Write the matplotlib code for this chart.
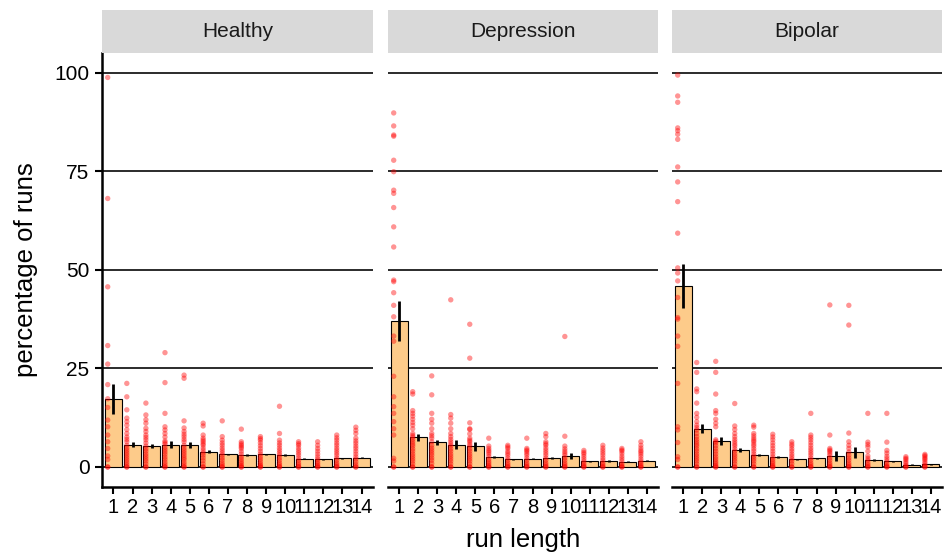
import matplotlib as mpl

mpl.use('agg')
import matplotlib.pyplot as plt
import numpy as np

plt.rcParams['font.family'] = ['Liberation Sans', 'DejaVu Sans']

groups = ['Healthy', 'Depression', 'Bipolar']
run_lengths = list(range(1, 15))

# mean percentage of runs per run length
healthy_mean = [17.2, 5.7, 5.3, 5.7, 5.6, 3.9, 3.2, 3.1, 3.2, 3.0, 2.1, 1.9, 2.2, 2.4]
depression_mean = [37.0, 7.5, 6.3, 5.7, 5.2, 2.5, 2.0, 2.1, 2.2, 2.8, 1.4, 1.5, 1.3, 1.6]
bipolar_mean = [45.9, 9.7, 6.5, 4.2, 3.1, 2.5, 1.9, 2.2, 2.8, 3.7, 1.7, 1.4, 0.6, 0.7]

# standard errors
healthy_se = [3.75, 0.75, 0.5, 0.8, 0.8, 0.3, 0.2, 0.2, 0.2, 0.25, 0.2, 0.15, 0.2, 0.2]
depression_se = [5.1, 0.85, 0.65, 1.2, 1.25, 0.2, 0.15, 0.2, 0.25, 0.85, 0.15, 0.15, 0.15, 0.15]
bipolar_se = [5.6, 1.2, 1.0, 0.5, 0.3, 0.2, 0.2, 0.2, 1.2, 1.45, 0.25, 0.2, 0.1, 0.1]

# individual subjects, one list per run length
healthy_points = [
    [98.8, 68.1, 45.7, 30.8, 26.1, 20.9, 17.3, 15.1, 11.9, 10.2, 8.1, 6.4, 4.7, 2.8, 1.9, 0, 0],
    [21.2, 17.8, 14.5, 12.4, 11.5, 10.6, 9.5, 8.5, 7.6, 7.0, 6.4, 5.5, 4.8, 4.2, 3.6, 3.0, 2.4,
     1.8, 1.2, 0.6, 0, 0],
    [16.2, 13.2, 12.0, 11.1, 9.8, 9.0, 8.1, 7.5, 6.9, 6.1, 5.3, 4.6, 4.0, 3.3, 2.7, 2.1, 1.5,
     0.8, 0, 0],
    [29.0, 21.4, 13.6, 10.2, 9.4, 8.5, 7.6, 6.6, 6.2, 5.8, 5.0, 4.4, 3.8, 3.2, 2.5, 1.9, 1.2,
     0.6, 0, 0],
    [23.3, 22.5, 11.7, 9.9, 9.0, 8.3, 7.7, 7.0, 6.4, 5.5, 4.8, 4.2, 3.6, 3.0, 2.4, 1.9, 1.2,
     0.6, 0, 0],
    [11.1, 10.4, 8.1, 7.3, 6.8, 6.4, 5.9, 5.5, 4.8, 4.2, 3.6, 3.0, 2.3, 1.6, 0.8, 0, 0],
    [11.7, 7.7, 6.8, 6.1, 5.5, 4.8, 4.2, 3.6, 3.0, 2.3, 1.7, 1.0, 0.5, 0, 0],
    [9.6, 6.4, 5.9, 5.5, 5.1, 4.7, 4.0, 3.3, 2.6, 2.0, 1.4, 0.9, 0.4, 0, 0],
    [7.7, 7.2, 6.8, 6.1, 5.4, 4.7, 4.0, 3.3, 2.6, 2.0, 1.4, 0.8, 0.4, 0, 0],
    [15.4, 8.5, 6.8, 6.1, 5.5, 4.8, 4.2, 3.6, 3.0, 2.3, 1.7, 1.0, 0.5, 0, 0],
    [6.4, 5.9, 5.5, 4.8, 4.2, 3.6, 3.0, 2.3, 1.7, 1.0, 0.5, 0, 0],
    [6.4, 5.5, 4.7, 4.0, 3.3, 2.6, 2.0, 1.4, 0.9, 0.4, 0, 0],
    [8.1, 7.4, 6.8, 6.1, 5.5, 4.8, 4.2, 3.6, 3.0, 2.3, 1.7, 1.0, 0.5, 0, 0],
    [10.1, 9.3, 8.5, 7.3, 6.6, 6.0, 5.3, 4.7, 4.0, 3.3, 2.6, 2.0, 1.3, 0.6, 0, 0],
]
depression_points = [
    [89.8, 86.5, 84.2, 83.9, 77.8, 74.9, 70.2, 69.4, 65.8, 60.9, 55.8, 47.4, 47.0, 44.2,
     41.0, 38.1, 33.2, 31.9, 23.0, 17.8, 15.3, 13.6, 11.5, 9.7, 8.1, 2.2, 1.5, 0, 0],
    [19.1, 18.5, 14.3, 13.6, 12.9, 12.1, 11.3, 10.6, 9.7, 8.5, 8.0, 7.6, 7.0, 6.4, 5.8, 5.3,
     4.6, 4.0, 3.3, 2.7, 2.1, 1.5, 0.8, 0, 0],
    [23.1, 18.3, 13.6, 12.1, 11.1, 9.7, 8.5, 7.9, 7.3, 6.4, 5.5, 4.8, 4.2, 3.6, 3.0, 2.3, 1.7,
     0.9, 0, 0],
    [42.4, 13.3, 12.4, 11.1, 9.7, 8.5, 7.7, 7.0, 6.4, 5.8, 5.3, 4.6, 4.0, 3.3, 2.7, 2.1, 1.5,
     0.8, 0, 0],
    [36.2, 27.6, 11.2, 9.7, 9.5, 8.4, 7.3, 6.8, 6.4, 5.8, 5.3, 4.6, 4.0, 3.3, 2.7, 2.1, 1.5,
     0.8, 0, 0],
    [7.3, 5.3, 4.7, 4.2, 3.8, 3.3, 2.7, 2.0, 1.4, 0.9, 0.4, 0, 0],
    [5.5, 5.1, 4.7, 4.0, 3.5, 3.0, 2.3, 1.7, 1.0, 0.5, 0, 0],
    [7.3, 4.7, 4.3, 4.0, 3.5, 3.0, 2.3, 1.7, 1.0, 0.5, 0, 0],
    [8.5, 7.7, 6.4, 5.9, 5.5, 4.8, 4.2, 3.6, 3.0, 2.3, 1.7, 1.0, 0.5, 0, 0],
    [33.1, 7.8, 5.3, 4.6, 4.0, 3.5, 3.0, 2.3, 1.7, 1.0, 0.5, 0, 0],
    [4.2, 3.7, 3.3, 2.7, 2.1, 1.5, 0.9, 0.4, 0, 0],
    [5.5, 4.8, 4.2, 3.6, 3.0, 2.3, 1.7, 1.0, 0.5, 0, 0],
    [4.7, 4.3, 4.0, 3.4, 2.7, 2.1, 1.5, 0.8, 0.3, 0, 0],
    [6.4, 5.5, 4.8, 4.2, 3.8, 3.3, 2.7, 2.0, 1.4, 0.9, 0.4, 0, 0],
]
bipolar_points = [
    [99.4, 94.1, 92.5, 86.0, 85.3, 84.4, 83.1, 76.1, 72.3, 67.3, 59.3, 50.5, 49.2, 47.2,
     43.0, 37.9, 37.5, 33.2, 30.6, 21.2, 10.2, 9.4, 6.2, 2.6, 1.9, 0, 0],
    [26.5, 24.0, 19.8, 19.1, 16.2, 13.6, 12.6, 11.5, 10.6, 10.0, 9.4, 8.5, 7.7, 7.0, 6.4, 5.8,
     5.3, 4.6, 4.0, 3.3, 2.7, 2.1, 1.5, 0.8, 0, 0],
    [26.8, 24.0, 18.5, 14.3, 13.6, 12.1, 11.1, 10.2, 6.9, 6.5, 6.1, 5.4, 4.7, 4.0, 3.3, 2.6,
     2.0, 1.4, 0.9, 0.4, 0, 0],
    [16.1, 10.4, 9.5, 8.5, 7.7, 7.0, 6.4, 5.8, 5.3, 4.6, 4.0, 3.3, 2.7, 2.1, 1.5, 0.8, 0, 0],
    [10.6, 10.1, 8.5, 7.9, 7.3, 6.8, 6.4, 5.8, 5.3, 4.6, 4.0, 3.3, 2.7, 2.1, 1.5, 0.8, 0, 0],
    [8.3, 7.6, 6.9, 6.1, 5.4, 4.7, 4.0, 3.3, 2.6, 2.0, 1.4, 0.9, 0.4, 0, 0],
    [6.4, 5.8, 5.3, 4.6, 4.0, 3.3, 2.7, 2.1, 1.5, 0.8, 0, 0],
    [13.6, 8.1, 7.5, 6.9, 6.2, 5.5, 4.8, 4.2, 3.6, 3.0, 2.3, 1.7, 1.0, 0.5, 0, 0],
    [41.1, 8.1, 4.7, 4.3, 4.0, 3.5, 3.0, 2.3, 1.7, 1.0, 0.5, 0, 0],
    [41.0, 36.0, 8.6, 6.4, 5.5, 4.7, 3.8, 3.0, 2.3, 1.7, 1.0, 0.5, 0, 0],
    [13.6, 6.3, 5.7, 5.1, 4.0, 2.8, 2.2, 1.7, 1.0, 0.5, 0, 0],
    [13.6, 6.3, 4.2, 3.5, 2.7, 2.1, 1.5, 0.8, 0.3, 0, 0],
    [2.6, 2.2, 1.9, 1.4, 0.9, 0.4, 0, 0],
    [3.2, 2.9, 2.6, 2.2, 1.9, 1.4, 0.9, 0.4, 0, 0],
]

means = [healthy_mean, depression_mean, bipolar_mean]
ses = [healthy_se, depression_se, bipolar_se]
points = [healthy_points, depression_points, bipolar_points]

W, H = 945, 554
fig = plt.figure(figsize=(W / 100, H / 100), dpi=100)

panel_x = [(102, 373), (388, 658), (672, 942)]
bottom, top = 1 - 486.7 / H, 1 - 53 / H
strip_top = 1 - 10 / H

for i, (x0, x1) in enumerate(panel_x):
    ax = fig.add_axes([x0 / W, bottom, (x1 - x0) / W, top - bottom])
    x = np.array(run_lengths)
    m = np.array(means[i])
    s = np.array(ses[i])

    for yv in [0, 25, 50, 75, 100]:
        ax.axhline(yv, color='#1a1a1a', lw=1.3, zorder=0)

    ax.bar(x, m, width=0.9, color='#fdcb8a', edgecolor='black', linewidth=0.8, zorder=2)
    for k, vals in enumerate(points[i]):
        ax.scatter(np.full(len(vals), run_lengths[k] - 0.3), vals, s=15, color='red',
                   alpha=0.42, edgecolors='none', zorder=3)
    ax.vlines(x, m - s, m + s, color='black', lw=2.0, zorder=4)

    ax.set_xlim(0.4, 14.6)
    ax.set_ylim(-5, 105)
    ax.set_xticks(run_lengths)
    ax.set_xticklabels([str(v) for v in run_lengths], fontsize=14.5)
    ax.tick_params(axis='x', length=5, width=1.5, pad=3)
    for side in ['top', 'right']:
        ax.spines[side].set_visible(False)
    ax.spines['bottom'].set_linewidth(1.8)
    if i == 0:
        ax.set_yticks([0, 25, 50, 75, 100])
        ax.set_yticklabels(['0', '25', '50', '75', '100'], fontsize=15)
        ax.tick_params(axis='y', length=5, width=1.5, pad=4)
        ax.spines['left'].set_linewidth(1.8)
        ax.set_ylabel('percentage of runs', fontsize=18.5, labelpad=12)
    else:
        ax.spines['left'].set_visible(False)
        ax.set_yticks([])
    if i == 1:
        ax.set_xlabel('run length', fontsize=18.5, labelpad=8)

    strip = fig.add_axes([x0 / W, top, (x1 - x0) / W, strip_top - top])
    strip.set_facecolor('#d9d9d9')
    strip.set_xticks([])
    strip.set_yticks([])
    for sp in strip.spines.values():
        sp.set_visible(False)
    strip.text(0.5, 0.5, groups[i], ha='center', va='center', fontsize=15, color='#1a1a1a',
               transform=strip.transAxes)

fig.savefig('out.png', dpi=100)
